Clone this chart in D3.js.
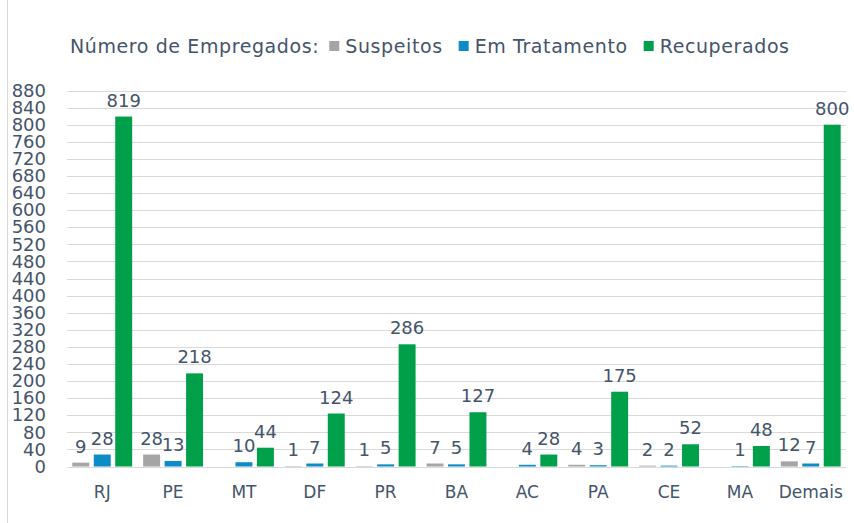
<!DOCTYPE html>
<html lang="pt">
<head>
<meta charset="utf-8">
<title>Número de Empregados</title>
<script src="https://d3js.org/d3.v7.min.js"></script>
<style>
    body { margin: 0; background: #fff; }
    svg text { font-family: Verdana, "DejaVu Sans", sans-serif; fill: #44546A; }
    .grid line { stroke: #D9D9D9; stroke-width: 1; }
</style>
</head>
<body>
<div id="chart"></div>
<script>
    // dados
    var categorias = ["RJ", "PE", "MT", "DF", "PR", "BA", "AC", "PA", "CE", "MA", "Demais"];
    var suspeitos = [9, 28, null, 1, 1, 7, null, 4, 2, null, 12];
    var emTratamento = [28, 13, 10, 7, 5, 5, 4, 3, 2, 1, 7];
    var recuperados = [819, 218, 44, 124, 286, 127, 28, 175, 52, 48, 800];
    var series = ["Suspeitos", "Em Tratamento", "Recuperados"];
    var cores = ["#A5A5A5", "#0C8BC6", "#00A04A"];
    var yTicks = d3.range(0, 881, 40);

    var width = 854, height = 523;
    var valores = [suspeitos, emTratamento, recuperados];

    var svg = d3.select("#chart").append("svg")
        .attr("width", width)
        .attr("height", height);

    // borda esquerda
    svg.append("line")
        .attr("x1", 7.5).attr("x2", 7.5)
        .attr("y1", 0).attr("y2", height)
        .attr("stroke", "#D9D9D9");

    var x0 = d3.scaleBand()
        .domain(categorias)
        .range([67, 846])
        .paddingInner(0.155)
        .paddingOuter(0.075);

    var x1 = d3.scaleBand()
        .domain(series)
        .range([0, x0.bandwidth()])
        .paddingInner(0.21);

    var y = d3.scaleLinear()
        .domain([0, 880])
        .range([466.5, 90.5]);

    // linhas de grade
    svg.append("g")
        .attr("class", "grid")
        .selectAll("line")
        .data(yTicks)
        .enter().append("line")
        .attr("x1", 67).attr("x2", 846)
        .attr("y1", function(d) { return Math.round(y(d)) + 0.5; })
        .attr("y2", function(d) { return Math.round(y(d)) + 0.5; });

    // eixo y
    var yAxis = svg.append("g")
        .attr("transform", "translate(46,0)")
        .call(d3.axisLeft(y).tickValues(yTicks).tickSize(0).tickPadding(0));
    yAxis.select(".domain").remove();
    yAxis.selectAll("text")
        .style("font-size", "18px")
        .attr("fill", "#44546A");

    // eixo x
    svg.append("g")
        .selectAll("text")
        .data(categorias)
        .enter().append("text")
        .attr("x", function(d) { return x0(d) + x0.bandwidth() / 2; })
        .attr("y", 498)
        .attr("text-anchor", "middle")
        .style("font-size", "17px")
        .text(function(d) { return d; });

    // barras
    var linhas = [];
    categorias.forEach(function(c, i) {
        series.forEach(function(s, j) {
            if (valores[j][i] != null) {
                linhas.push({cat: c, serie: s, valor: valores[j][i], cor: cores[j]});
            }
        });
    });

    svg.append("g")
        .selectAll("rect")
        .data(linhas)
        .enter().append("rect")
        .attr("x", function(d) { return x0(d.cat) + x1(d.serie); })
        .attr("width", x1.bandwidth())
        .attr("y", function(d) { return y(d.valor); })
        .attr("height", function(d) { return y(0) - y(d.valor); })
        .attr("fill", function(d) { return d.cor; });

    svg.append("g")
        .selectAll("text")
        .data(linhas)
        .enter().append("text")
        .attr("x", function(d) { return x0(d.cat) + x1(d.serie) + x1.bandwidth() / 2; })
        .attr("y", function(d) { return y(d.valor) - 10; })
        .attr("text-anchor", "middle")
        .style("font-size", "18px")
        .text(function(d) { return d.valor; });

    // legenda
    var leg = svg.append("g")
        .style("font-size", "19px")
        .style("letter-spacing", "0.6px");
    var lx = 70, ly = 53;
    var titulo = leg.append("text").attr("x", lx).attr("y", ly).text("Número de Empregados:");
    lx += titulo.node().getComputedTextLength() + 10;
    series.forEach(function(s, j) {
        leg.append("rect")
            .attr("x", lx).attr("y", ly - 12)
            .attr("width", 10).attr("height", 10)
            .attr("fill", cores[j]);
        lx += 16;
        var t = leg.append("text").attr("x", lx).attr("y", ly).text(s);
        lx += t.node().getComputedTextLength() + 16;
    });
</script>
</body>
</html>
